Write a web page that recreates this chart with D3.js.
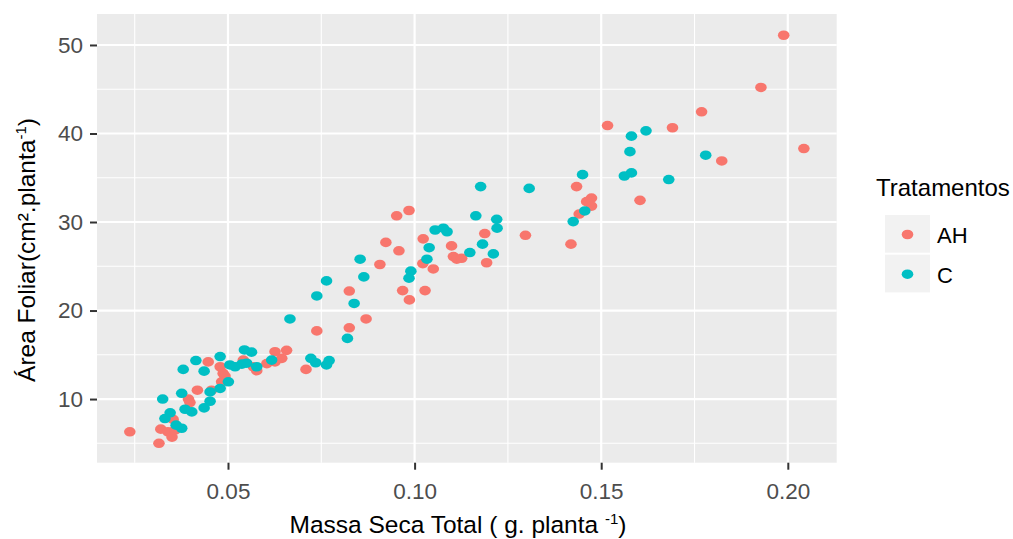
<!DOCTYPE html>
<html>
<head>
<meta charset="utf-8">
<script src="https://cdn.jsdelivr.net/npm/d3@7"></script>
<style>
  body { margin: 0; background: #fff; }
  svg { display: block; font-family: "Liberation Sans", Arial, Helvetica, sans-serif; }
</style>
</head>
<body>
<svg id="chart" width="1013" height="539"></svg>
<script>
// Massa seca total (g/planta) and área foliar (cm²/planta), treatment AH
const ahMassa = [0.0237,0.0315,0.0320,0.0339,0.0350,0.0358,0.0353,0.0394,0.0398,0.0418,0.0447,0.0456,0.0479,0.0487,0.0492,0.0483,0.0541,0.0568,0.0577,0.0604,0.0626,0.0644,0.0657,0.0626,0.0709,
  0.0952,0.0985,0.0923,0.0958,0.1023,0.1099,0.1104,0.1113,0.1126,0.0907,0.1022,0.1050,0.0825,0.0968,0.1028,0.0986,0.0870,0.0825,0.0738,
  0.1517,0.1691,0.1434,0.1474,0.1461,0.1474,0.1441,0.1604,0.1419,0.1297,0.1188,0.1193,
  0.1989,0.1928,0.1769,0.2043,0.1823];
const ahArea = [6.3,5.0,6.6,6.3,5.7,6.5,7.7,10.0,9.6,11.0,14.2,11.0,13.65,12.9,12.6,11.95,14.4,13.65,13.2,14.0,15.35,14.6,15.5,14.2,13.35,
  30.7,31.3,27.7,26.75,28.1,27.3,26.1,25.8,25.9,25.2,25.3,24.7,22.2,22.25,22.25,21.2,19.05,18.05,17.7,
  40.9,40.65,34.0,32.7,32.3,31.8,30.9,32.45,27.5,28.5,28.7,25.4,
  51.1,45.2,42.45,38.3,36.9];

// Treatment C
const cMassa = [0.0544,0.0563,0.0414,0.0380,0.0436,0.0479,0.0505,0.0519,0.0537,0.0550,0.0577,0.0617,0.0722,0.0735,0.0764,0.0771,0.0501,0.0479,0.0452,0.0452,0.0436,0.0376,0.0325,0.0385,0.0403,0.0345,0.0331,0.0361,0.0376,
  0.0854,0.0764,0.0864,0.0738,0.0838,0.0666,0.0820,0.1055,0.1077,0.1087,0.1039,0.1033,0.0990,0.0985,
  0.1581,0.1620,0.1577,0.1450,0.1562,0.1581,0.1681,0.1780,0.1177,0.1307,0.1456,0.1425,0.1164,0.1220,0.1221,0.1182,0.1148,0.1211];
const cArea = [15.55,15.3,14.35,13.35,13.15,14.8,13.85,13.65,13.95,14.05,13.65,14.4,14.6,14.1,13.85,14.35,11.95,11.2,10.8,9.75,9.0,10.65,10.0,8.85,8.55,8.45,7.8,7.05,6.7,
  25.8,23.35,23.8,21.65,20.8,19.05,16.85,29.1,29.3,28.9,27.1,25.8,24.45,23.65,
  39.7,40.3,37.95,35.35,35.2,35.55,34.8,37.55,34.0,33.8,31.25,30.05,30.7,30.3,29.3,27.5,26.55,26.4];

const groups = ["AH", "C"];
const groupColors = ["#F8766D", "#00BFC4"];
const xTicks = [0.05, 0.10, 0.15, 0.20];
const xTickLabels = ["0.05", "0.10", "0.15", "0.20"];
const xMinor = [0.025, 0.075, 0.125, 0.175];
const yTicks = [10, 20, 30, 40, 50];
const yMinor = [5, 15, 25, 35, 45];

const svg = d3.select("#chart");
const panel = { left: 97, top: 14, right: 836.7, bottom: 462.7 };

const x = d3.scaleLinear().domain([0.0149, 0.2131]).range([panel.left, panel.right]);
const y = d3.scaleLinear().domain([2.81, 53.5]).range([panel.bottom, panel.top]);

// panel background
svg.append("rect")
  .attr("x", panel.left).attr("y", panel.top)
  .attr("width", panel.right - panel.left).attr("height", panel.bottom - panel.top)
  .attr("fill", "#EBEBEB");

const grid = svg.append("g");
grid.selectAll(".vminor").data(xMinor).enter().append("line")
  .attr("x1", d => x(d)).attr("x2", d => x(d))
  .attr("y1", panel.top).attr("y2", panel.bottom)
  .attr("stroke", "#fff").attr("stroke-width", 1.1);
grid.selectAll(".hminor").data(yMinor).enter().append("line")
  .attr("y1", d => y(d)).attr("y2", d => y(d))
  .attr("x1", panel.left).attr("x2", panel.right)
  .attr("stroke", "#fff").attr("stroke-width", 1.1);
grid.selectAll(".vmajor").data(xTicks).enter().append("line")
  .attr("x1", d => x(d)).attr("x2", d => x(d))
  .attr("y1", panel.top).attr("y2", panel.bottom)
  .attr("stroke", "#fff").attr("stroke-width", 2.2);
grid.selectAll(".hmajor").data(yTicks).enter().append("line")
  .attr("y1", d => y(d)).attr("y2", d => y(d))
  .attr("x1", panel.left).attr("x2", panel.right)
  .attr("stroke", "#fff").attr("stroke-width", 2.2);

// points: AH first, C on top
const series = [
  { name: groups[0], color: groupColors[0], xs: ahMassa, ys: ahArea },
  { name: groups[1], color: groupColors[1], xs: cMassa, ys: cArea }
];
series.forEach(s => {
  const pts = s.xs.map((v, i) => [v, s.ys[i]]);
  svg.append("g").selectAll("ellipse").data(pts).enter().append("ellipse")
    .attr("cx", d => x(d[0])).attr("cy", d => y(d[1]))
    .attr("rx", 5.8).attr("ry", 4.8)
    .attr("fill", s.color);
});

// axes
const xAxis = svg.append("g")
  .attr("transform", `translate(0,${panel.bottom})`)
  .call(d3.axisBottom(x).tickValues(xTicks).tickFormat((d, i) => xTickLabels[i]).tickSize(7).tickPadding(13));
const yAxis = svg.append("g")
  .attr("transform", `translate(${panel.left},0)`)
  .call(d3.axisLeft(y).tickValues(yTicks).tickFormat(d3.format("d")).tickSize(7).tickPadding(7));
[xAxis, yAxis].forEach(a => {
  a.select(".domain").remove();
  a.selectAll(".tick line").attr("stroke", "#333333").attr("stroke-width", 2);
  a.selectAll(".tick text")
    .attr("fill", "#4D4D4D")
    .style("font-size", "22.5px")
    .style("font-family", "'Liberation Sans', Arial, sans-serif");
});

// axis titles
const xTitle = svg.append("text")
  .attr("x", 458).attr("y", 533)
  .attr("text-anchor", "middle")
  .style("font-size", "24.5px").attr("fill", "#000");
xTitle.append("tspan").text("Massa Seca Total ( g. planta ");
xTitle.append("tspan").attr("dy", -9).style("font-size", "15px").text("-1");
xTitle.append("tspan").attr("dy", 9).text(")");

const yTitle = svg.append("text")
  .attr("transform", "translate(35,250) rotate(-90)")
  .attr("text-anchor", "middle")
  .style("font-size", "24.5px").attr("fill", "#000");
yTitle.append("tspan").text("Área Foliar(cm².planta");
yTitle.append("tspan").attr("dy", -9).style("font-size", "15px").text("-1");
yTitle.append("tspan").attr("dy", 9).text(")");

// legend
const legend = svg.append("g");
legend.append("text")
  .attr("x", 876).attr("y", 196)
  .style("font-size", "24px").attr("fill", "#000")
  .text("Tratamentos");
const keys = legend.selectAll(".key").data(groups).enter().append("g")
  .attr("transform", (d, i) => `translate(885,${215 + i * 39.7})`);
keys.append("rect")
  .attr("width", 45).attr("height", 37.7)
  .attr("fill", "#F2F2F2");
keys.append("ellipse")
  .attr("cx", 22.5).attr("cy", 19.5)
  .attr("rx", 5.8).attr("ry", 4.8)
  .attr("fill", (d, i) => groupColors[i]);
keys.append("text")
  .attr("x", 52).attr("y", 28)
  .style("font-size", "22px").attr("fill", "#000")
  .text(d => d);
</script>
</body>
</html>
